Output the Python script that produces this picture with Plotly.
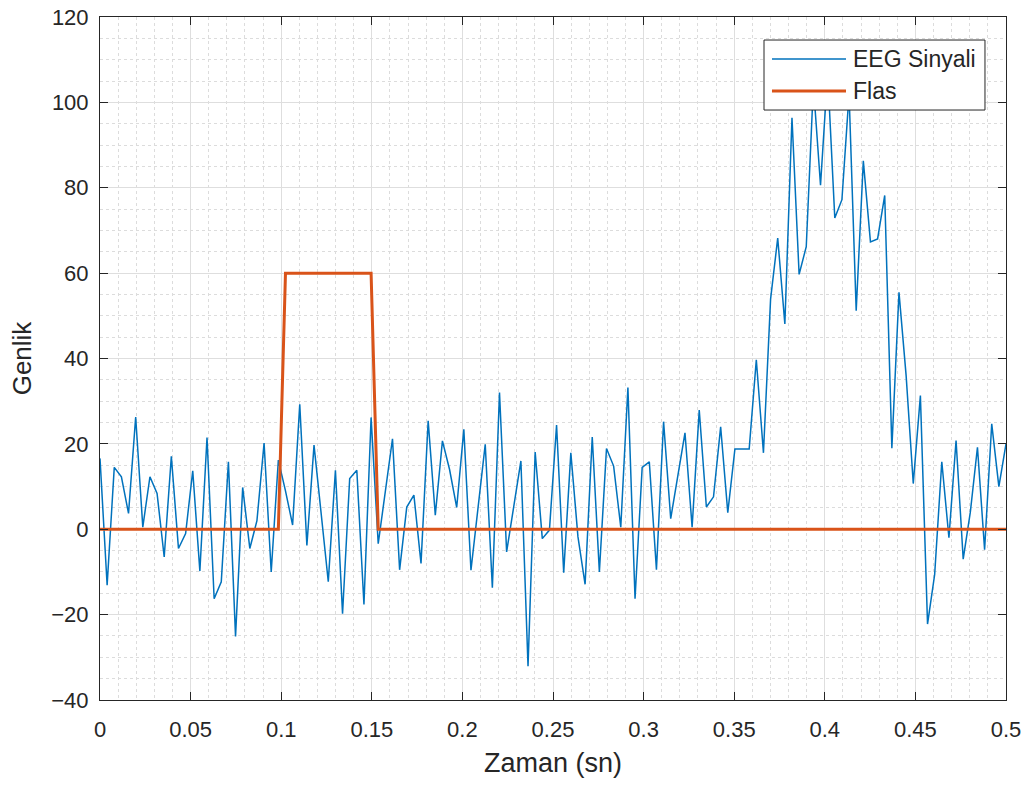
import numpy as np
import plotly.graph_objects as go

# --- data ---
n_samples = 128
t = np.linspace(0, 0.5, n_samples)

eeg = [
    16.6, -13.1, 14.5, 12.3, 3.7, 26.3, 0.5, 12.3, 8.4, -6.5,
    17.1, -4.5, -1.0, 13.7, -9.8, 21.5, -16.3, -12.3, 15.8, -25.1,
    9.8, -4.5, 2.0, 20.2, -10.0, 16.2, 9.0, 1.0, 29.3, -3.8,
    19.7, 4.0, -12.3, 13.8, -19.8, 11.9, 13.8, -17.6, 26.2, -3.4,
    9.0, 21.2, -9.5, 5.2, 8.0, -8.0, 25.4, 3.3, 20.7, 14.0,
    5.1, 23.4, -9.6, 5.0, 19.9, -13.7, 32.0, -5.3, 5.0, 16.0,
    -32.1, 18.1, -2.2, -0.2, 24.4, -10.2, 17.9, -1.8, -12.9, 21.6,
    -10.0, 18.9, 14.8, 0.5, 33.2, -16.3, 14.5, 15.8, -9.5, 25.2,
    2.5, 13.0, 22.6, 0.5, 27.9, 5.2, 7.6, 24.0, 3.9, 18.8,
    18.8, 18.8, 39.7, 17.9, 53.9, 68.2, 48.1, 96.4, 59.7, 66.2,
    104.0, 80.6, 107.0, 72.9, 77.2, 102.0, 51.2, 86.3, 67.3, 68.0,
    78.2, 19.0, 55.5, 36.0, 10.7, 31.3, -22.2, -10.6, 15.8, -2.0,
    20.8, -7.0, 4.0, 19.2, -4.8, 24.7, 10.0, 20.0,
]

flash_level = 60
flash_start = 0.1
flash_end = 0.15
flash = [flash_level if (flash_start <= v <= flash_end) else 0 for v in t]

series_names = ["EEG Sinyali", "Flas"]
series_colors = ["#0072BD", "#D95319"]
series_widths = [1.5, 3]

x_ticks = [0, 0.05, 0.1, 0.15, 0.2, 0.25, 0.3, 0.35, 0.4, 0.45, 0.5]
x_tick_labels = ["0", "0.05", "0.1", "0.15", "0.2", "0.25", "0.3", "0.35", "0.4", "0.45", "0.5"]
y_ticks = [-40, -20, 0, 20, 40, 60, 80, 100, 120]

# --- figure ---
FONT = "Liberation Sans, Arial, Helvetica, sans-serif"
INK = "#262626"

fig = go.Figure()
fig.add_trace(go.Scatter(x=t, y=eeg, mode="lines", name=series_names[0],
                         line=dict(color=series_colors[0], width=series_widths[0])))
fig.add_trace(go.Scatter(x=t, y=flash, mode="lines", name=series_names[1],
                         line=dict(color=series_colors[1], width=series_widths[1])))

axis_common = dict(
    showline=True, linecolor=INK, linewidth=1, mirror="ticks",
    ticks="inside", ticklen=8, tickwidth=1, tickcolor=INK,
    showgrid=True, gridcolor="#dedede", gridwidth=1,
    zeroline=False, automargin=False, ticklabeloverflow="allow",
    tickfont=dict(family=FONT, size=22, color=INK),
)

fig.update_xaxes(
    range=[0, 0.5], tickvals=x_ticks, ticktext=x_tick_labels,
    ticklabelstandoff=10,
    title=dict(text="Zaman (sn)", font=dict(family=FONT, size=27, color=INK), standoff=11),
    minor=dict(dtick=0.01, showgrid=True, gridcolor="#dcdcdc", griddash="dot", ticks=""),
    **axis_common,
)
fig.update_yaxes(
    range=[-40, 120], tickvals=y_ticks,
    ticklabelstandoff=6,
    title=dict(text="Genlik", font=dict(family=FONT, size=26, color=INK), standoff=12),
    minor=dict(dtick=5, showgrid=True, gridcolor="#dcdcdc", griddash="dot", ticks=""),
    **axis_common,
)

# legend box drawn in paper coordinates (MATLAB-style long line samples)
box_x0, box_x1 = 0.7329, 0.9768
box_y0, box_y1 = 0.8638, 0.9663
row_y = [0.9385, 0.8916]
line_x0, line_x1 = 0.7417, 0.8234
text_x = 0.8290

fig.add_shape(type="rect", xref="paper", yref="paper",
              x0=box_x0, x1=box_x1, y0=box_y0, y1=box_y1,
              line=dict(color=INK, width=1), fillcolor="white", layer="above")
for name, color, width, yy in zip(series_names, series_colors, series_widths, row_y):
    fig.add_shape(type="line", xref="paper", yref="paper",
                  x0=line_x0, x1=line_x1, y0=yy, y1=yy,
                  line=dict(color=color, width=width), layer="above")
    fig.add_annotation(xref="paper", yref="paper", x=text_x, y=yy,
                       text=name, showarrow=False, xanchor="left", yanchor="middle",
                       font=dict(family=FONT, size=23, color=INK))

fig.update_layout(
    width=1035, height=785,
    margin=dict(l=100, r=29, t=17, b=85),
    paper_bgcolor="white", plot_bgcolor="white",
    font=dict(family=FONT, color=INK),
    showlegend=False,
)

fig.write_html(
    "out.html",
    config={"displayModeBar": False},
    post_script="document.body.style.margin='0';document.body.style.padding='0';",
)
